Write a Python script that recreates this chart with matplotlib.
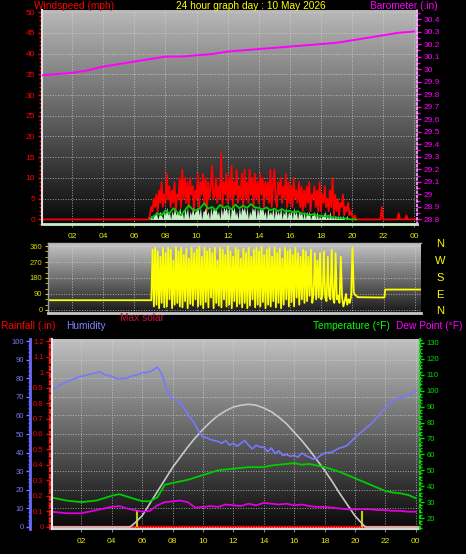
import numpy as np
import matplotlib
matplotlib.use("Agg")
import matplotlib.pyplot as plt
from matplotlib.colors import LinearSegmentedColormap
from matplotlib.ticker import MultipleLocator, FuncFormatter

plt.rcParams['font.family'] = ['Liberation Sans', 'DejaVu Sans']

W, H = 466, 554

# === values ===
hour_ticks = [2, 4, 6, 8, 10, 12, 14, 16, 18, 20, 22, 24]
hour_labels = ['02', '04', '06', '08', '10', '12', '14', '16', '18', '20', '22', '00']

# barometer (in), hourly
baro_hours = list(range(0, 25))
baro = [29.95, 29.96, 29.97, 29.99, 30.02, 30.04, 30.06, 30.08, 30.10, 30.10,
        30.11, 30.12, 30.14, 30.15, 30.16, 30.17, 30.18, 30.19, 30.20, 30.21,
        30.23, 30.25, 30.27, 30.29, 30.30]

# wind gust (mph), 5 minute readings from 00:00
gust_night = [0] * 84
gust_day = [
    1, 3, 2, 5, 3, 6, 2, 7, 4, 9, 3, 6,          # 07
    4, 11, 5, 8, 3, 7, 4, 9, 2, 6, 5, 10,        # 08
    3, 12, 5, 10, 4, 9, 3, 10, 6, 8, 2, 7,       # 09
    5, 11, 3, 9, 6, 11, 4, 10, 2, 9, 5, 8,       # 10
    13, 5, 6, 10, 4, 8, 5, 16, 3, 9, 6, 11,      # 11
    4, 10, 5, 13, 3, 9, 6, 12, 4, 8, 5, 11,      # 12
    3, 12, 5, 9, 4, 12, 6, 10, 3, 11, 5, 9,      # 13
    4, 11, 6, 10, 3, 9, 5, 9, 4, 12, 3, 8,       # 14
    12, 5, 3, 9, 6, 10, 4, 8, 5, 11, 3, 9,       # 15
    4, 8, 3, 10, 5, 7, 4, 9, 3, 8, 2, 7,         # 16
    3, 8, 4, 9, 2, 6, 5, 8, 3, 7, 2, 9,          # 17
    2, 6, 4, 8, 3, 5, 2, 7, 3, 10, 1, 6,         # 18
    2, 5, 1, 4, 3, 6, 1, 3, 2, 4, 1, 2,          # 19
    1, 0, 1, 0, 0, 0]                            # 20
gust_evening = [0, 0, 0, 0, 0, 0, 0, 0, 0, 0, 0, 0, 0, 0, 0, 0, 0, 3, 0, 0,
                0, 0, 0, 0, 0, 0, 0, 0, 0, 0, 1.5, 0, 0, 0, 0, 0, 1, 0, 0, 0,
                0, 0, 0, 0, 0]
gust = gust_night + gust_day + gust_evening

# wind speed (mph), 5 minute readings from 07:00
speed = [
    0, 1, 0, 1, 1, 2, 0, 1, 2, 1, 0, 2,
    1, 3, 1, 2, 0, 2, 1, 3, 1, 2, 1, 3,
    1, 2, 0, 3, 1, 3, 0, 2, 1, 3, 1, 2,
    2, 3, 1, 3, 0, 2, 2, 3, 1, 2, 0, 3,
    1, 3, 2, 3, 1, 2, 0, 3, 1, 3, 2, 3,
    1, 3, 0, 3, 2, 3, 1, 2, 0, 3, 1, 3,
    2, 3, 1, 3, 0, 2, 1, 3, 2, 3, 0, 3,
    1, 3, 2, 3, 1, 2, 0, 3, 1, 2, 1, 3,
    0, 3, 1, 2, 1, 3, 0, 2, 1, 3, 0, 2,
    1, 2, 0, 3, 1, 2, 0, 2, 1, 2, 0, 2,
    0, 2, 1, 2, 0, 1, 1, 2, 0, 2, 0, 1,
    0, 1, 1, 2, 0, 1, 0, 2, 0, 1, 0, 1,
    0, 1, 0, 1, 0, 1, 0, 0, 1, 0, 0, 0,
    0, 0, 0, 0, 0, 0]

# average wind speed (mph), 15 minute readings from 07:00
avg_speed = [0.2, 0.8, 1.5, 1.0, 2.2, 1.4, 2.7, 1.8, 1.0, 2.2, 3.4, 2.4,
             2.2, 2.8, 3.9, 2.6, 3.0, 2.2, 3.5, 2.8, 3.2, 2.4, 3.6, 2.7,
             3.3, 2.8, 3.7, 2.9, 2.8, 2.4, 2.9, 2.2, 2.6, 2.0, 2.5, 1.9,
             2.1, 1.6, 2.0, 1.4, 1.4, 1.0, 1.3, 0.9, 0.9, 0.7, 0.9, 0.5,
             0.5, 0.3, 0.3, 0.1, 0.0, 0.0]

# wind direction (deg)
dir_am_hours = [0.45, 6.95]
dir_am = [55, 55]
dir_day = [  # 5 minute readings from 07:00
    55, 55, 340, 20, 350, 30, 330, 10, 300, 40, 350, 15,
    320, 20, 350, 60, 340, 10, 280, 30, 355, 40, 330, 20,
    350, 15, 310, 50, 345, 10, 290, 35, 350, 25, 320, 60,
    340, 20, 355, 30, 300, 10, 350, 45, 330, 15, 345, 70,
    320, 10, 350, 40, 280, 25, 350, 15, 340, 60, 310, 20,
    355, 30, 330, 10, 300, 50, 350, 20, 340, 35, 290, 15,
    345, 40, 320, 10, 350, 25, 300, 60, 340, 15, 350, 30,
    330, 20, 355, 45, 310, 10, 340, 30, 350, 20, 300, 50,
    350, 15, 320, 40, 345, 10, 290, 30, 350, 60, 330, 20,
    340, 45, 310, 20, 350, 70, 320, 30, 300, 60, 340, 40,
    330, 50, 300, 80, 340, 40, 90, 320, 60, 280, 70, 320,
    60, 90, 330, 70, 50, 300, 80, 60, 340, 70, 40, 320,
    60, 80, 40, 300, 70, 20, 50, 90, 30, 60, 40, 80,
    350, 100, 85, 80]
dir_pm_hours = [20.33, 22.05, 22.1, 24.4]
dir_pm = [72, 70, 115, 115]

# humidity (%), 15 minute readings from 00:00
humidity = [73, 74.5, 76, 77, 78, 79, 79.5, 80.5, 81, 81.5, 82, 82.5,
            83, 83.5, 82, 81.5, 81, 80, 79.5, 80, 80, 81, 81.5, 82,
            83, 83, 83.5, 84.5, 86, 83, 77, 71, 69, 68, 67, 64,
            61, 58, 55, 51, 48.5, 48, 47, 46.5, 46, 45, 46.5, 44,
            45, 43.5, 45, 46.5, 44, 42, 44, 43, 43, 40.5, 42.5, 39.5,
            41, 38.5, 39, 38, 38.5, 37.5, 39.8, 38.5, 37.6, 36.5, 37, 38.5,
            39.8, 40, 40.3, 41.5, 42.5, 43, 44, 46, 48, 50, 51.5, 53.5,
            55, 57, 59.5, 62, 64, 66, 68, 69, 69.5, 70, 71, 72, 73.5]

# temperature and dew point (F), 30 minute readings from 00:00
temperature = [33, 32, 31, 30.5, 30, 30.5, 31, 32.5, 34, 35, 33.5, 32,
               30.6, 30.5, 33, 41, 42, 43, 44, 45.5, 47, 48.5, 50, 50.5,
               51, 51.5, 52, 52, 52, 53, 53.5, 54, 54.5, 53.5, 54, 53,
               52, 50.5, 49, 47, 45, 43, 41, 39, 37, 36, 35.5, 34.5, 32.5]
dew_point = [24, 23.5, 23, 23, 23, 24, 25, 26, 27, 27.5, 26, 25,
             24, 24.5, 28, 30, 30.5, 31, 30, 26.5, 27, 27.5, 27, 28.5,
             28, 27.5, 29, 28, 29.5, 29, 28.5, 29, 28, 28.5, 27.5, 27,
             27, 26.5, 26, 25.5, 25.5, 25.5, 25.5, 25, 25, 24.5, 24.5, 24, 24]

# max solar curve (scaled to the humidity axis)
solar_hours = [0, 5.2, 5.5, 6, 6.5, 7, 7.5, 8, 8.5, 9, 9.5, 10, 10.5, 11, 11.5,
               12, 12.5, 13, 13.5, 14, 14.5, 15, 15.5, 16, 16.5, 17, 17.5, 18,
               18.5, 19, 19.5, 20, 20.5, 20.7, 24.3]
solar = [0, 0, 2, 6, 12.5, 19, 25.5, 32, 37.5, 43, 48, 52.5, 56.5, 60, 62.5,
         64.5, 65.5, 66, 65.5, 64, 62, 59, 55.5, 51, 46.5, 41.5, 36, 30.5,
         24.5, 18, 12, 6, 1.5, 0, 0]

# rainfall (in) and sunrise / sunset
rain_hours = [0, 24.3]
rain = [0, 0]
sun_events = [5.66, 20.46]
sun_mark = 0.1

gust_hours = np.arange(len(gust)) * 5 / 60
speed_hours = 7 + np.arange(len(speed)) * 5 / 60
avg_hours = 7 + np.arange(len(avg_speed)) * 15 / 60
dir_day_hours = 7 + np.arange(len(dir_day)) * 5 / 60
dir_hours = np.concatenate([dir_am_hours, dir_day_hours, dir_pm_hours])
direction = np.concatenate([dir_am, dir_day, dir_pm])
hum_hours = np.arange(len(humidity)) * 0.25
temp_hours = np.arange(len(temperature)) * 0.5


def rect(x0, y0, x1, y1):
    return [x0 / W, 1 - y1 / H, (x1 - x0) / W, (y1 - y0) / H]


def shade(ax, top, bottom):
    cmap = LinearSegmentedColormap.from_list('bg', [bottom, top])
    ax.imshow(np.linspace(0, 1, 256).reshape(-1, 1), cmap=cmap, origin='lower',
              extent=(0, 1, 0, 1), transform=ax.transAxes, aspect='auto', zorder=0)


def spines(ax, **kw):
    for name in ['left', 'right', 'top', 'bottom']:
        if name in kw:
            ax.spines[name].set_visible(True)
            ax.spines[name].set(**kw[name])
        else:
            ax.spines[name].set_visible(False)


fmt = FuncFormatter(lambda v, p: f"{round(v, 2):g}")
grid_kw = dict(color='#d8d8d8', ls=':', lw=0.7, alpha=0.7)

fig = plt.figure(figsize=(W / 100, H / 100), dpi=100, facecolor='black')

# === top: wind speed + barometer ===
ax1 = fig.add_axes(rect(42, 10, 417, 224))
shade(ax1, '#b8b8b8', '#080808')
ax1.plot(gust_hours, gust, color='#ff0000', lw=1.3, zorder=2)
ax1.fill_between(speed_hours, speed, color='#c8f0c8', lw=0, zorder=3)
ax1.plot(avg_hours, avg_speed, color='#00cc00', lw=1.3, zorder=4)
ax1.set_xlim(0.06, 24.18)
ax1.set_ylim(-1.1, 50.5)
ax1.yaxis.set_major_locator(MultipleLocator(5))
ax1.yaxis.set_minor_locator(MultipleLocator(1))
ax1.tick_params(axis='y', which='both', colors='#ff0000', labelsize=6, width=1, pad=2)
ax1.tick_params(axis='y', which='major', length=3)
ax1.tick_params(axis='y', which='minor', length=2)
ax1.set_xticks(hour_ticks, hour_labels)
ax1.tick_params(axis='x', colors='#808080', labelcolor='#e8e800', labelsize=6, length=2, pad=4.5)
ax1.grid(True, **grid_kw)
spines(ax1, left=dict(color='#e0e0e0', lw=1.5), bottom=dict(color='#c8f0c8', lw=2))

ax1b = ax1.twinx()
ax1b.plot(baro_hours, baro, color='#ff00ff', lw=1.4)
ax1b.set_ylim(28.763, 30.472)
ax1b.yaxis.set_major_locator(MultipleLocator(0.1))
ax1b.yaxis.set_minor_locator(MultipleLocator(0.05))
ax1b.yaxis.set_major_formatter(fmt)
ax1b.tick_params(axis='y', which='both', colors='#ff00ff', labelsize=6, width=1, pad=2)
ax1b.tick_params(axis='y', which='major', length=3)
ax1b.tick_params(axis='y', which='minor', length=2)
spines(ax1b, right=dict(color='#ffb0ff', lw=1.2, ls=':'))

# === middle: wind direction ===
ax2 = fig.add_axes(rect(48, 243, 421, 313))
shade(ax2, '#c8c8c8', '#181818')
ax2.plot(dir_hours, direction, color='#ffff00', lw=1.3, zorder=2)
ax2.set_xlim(0.45, 24.4)
ax2.set_ylim(-17, 377)
ax2.set_yticks([0, 90, 180, 270, 360])
ax2.yaxis.set_minor_locator(MultipleLocator(30))
ax2.tick_params(axis='y', which='both', colors='#d8d800', labelsize=5.5, length=2, pad=2)
ax2.set_xticks(hour_ticks, [])
ax2.tick_params(axis='x', length=0)
ax2.grid(True, **grid_kw)
spines(ax2, left=dict(color='#a0a0a0', lw=1), top=dict(color='#b0b0b0', lw=1),
       bottom=dict(color='#c8c8c8', lw=2))
for letter, y in zip(['N', 'W', 'S', 'E', 'N'], [244, 261, 278, 295, 311]):
    fig.text(440 / W, 1 - y / H, letter, color='#ffff00', fontsize=8, ha='center', va='center')

# === bottom: rain / humidity / temperature ===
ax3 = fig.add_axes(rect(52, 339, 420, 529))
shade(ax3, '#c0c0c0', '#080808')
ax3.plot(rain_hours, rain, color='#ff0000', lw=2.5, zorder=2)
ax3.vlines(sun_events, 0, sun_mark, color='#c8c800', lw=1.5, zorder=3)
ax3.set_xlim(0.07, 24.28)
ax3.set_ylim(-0.013, 1.213)
ax3.yaxis.set_major_locator(MultipleLocator(0.1))
ax3.yaxis.set_minor_locator(MultipleLocator(0.02))
ax3.yaxis.set_major_formatter(fmt)
ax3.tick_params(axis='y', which='both', colors='#ff0000', labelsize=5.5, width=1, pad=1.5)
ax3.tick_params(axis='y', which='major', length=3)
ax3.tick_params(axis='y', which='minor', length=1.5)
ax3.set_xticks(hour_ticks, hour_labels)
ax3.tick_params(axis='x', colors='#808080', labelcolor='#e8e800', labelsize=6, length=2, pad=4.5)
ax3.grid(True, axis='x', **grid_kw)
spines(ax3, left=dict(color='#ff2020', lw=1.3, ls=(0, (2, 2)), position=('outward', 1.5)),
       bottom=dict(color='#d8d8d8', lw=1.5))

ax3h = ax3.twinx()
ax3h.plot(solar_hours, solar, color='#c8c8c8', lw=1.2)
ax3h.plot(hum_hours, humidity, color='#7878ff', lw=1.2)
ax3h.set_ylim(-1.08, 101.1)
ax3h.yaxis.tick_left()
ax3h.yaxis.set_major_locator(MultipleLocator(10))
ax3h.yaxis.set_minor_locator(MultipleLocator(2))
ax3h.tick_params(axis='y', which='both', colors='#7878ff', labelsize=5.5, width=1, pad=1.5)
ax3h.tick_params(axis='y', which='major', length=3)
ax3h.tick_params(axis='y', which='minor', length=1.5)
ax3h.grid(True, axis='y', **grid_kw)
spines(ax3h, left=dict(color='#6a6aff', lw=2, position=('outward', 15.8)))

ax3t = ax3.twinx()
ax3t.plot(temp_hours, dew_point, color='#e000e0', lw=1.3)
ax3t.plot(temp_hours, temperature, color='#00cc00', lw=1.3)
ax3t.set_ylim(13.1, 132.5)
ax3t.yaxis.set_major_locator(MultipleLocator(10))
ax3t.yaxis.set_minor_locator(MultipleLocator(2))
ax3t.tick_params(axis='y', which='both', colors='#00dd00', labelsize=5.5, width=1, pad=2)
ax3t.tick_params(axis='y', which='major', length=3)
ax3t.tick_params(axis='y', which='minor', length=1.5)
spines(ax3t, left=dict(color='#e8e8e8', lw=1.5), right=dict(color='#00dd00', lw=1.5, ls=':'))

# === headings ===
head = dict(fontsize=7.3, va='center')
fig.text(34 / W, 1 - 6 / H, 'Windspeed (mph)', color='#ff0000', ha='left', **head)
fig.text(251 / W, 1 - 6 / H, '24 hour graph day : 10 May 2026', color='#ffff00', ha='center', **head)
fig.text(438 / W, 1 - 6 / H, 'Barometer (.in)', color='#ff00ff', ha='right', **head)
fig.text(1 / W, 1 - 326 / H, 'Rainfall (.in)', color='#ff0000', ha='left', **head)
fig.text(66 / W, 1 - 326 / H, 'Humidity', color='#8080ff', ha='left', **head)
fig.text(120 / W, 1 - 318 / H, 'Max solar', color='#c0143c', ha='left', **head)
fig.text(313 / W, 1 - 326 / H, 'Temperature (°F)', color='#00ff00', ha='left', **head)
fig.text(462 / W, 1 - 326 / H, 'Dew Point (°F)', color='#ff00ff', ha='right', **head)

fig.savefig('out.png', dpi=100, facecolor='black')
